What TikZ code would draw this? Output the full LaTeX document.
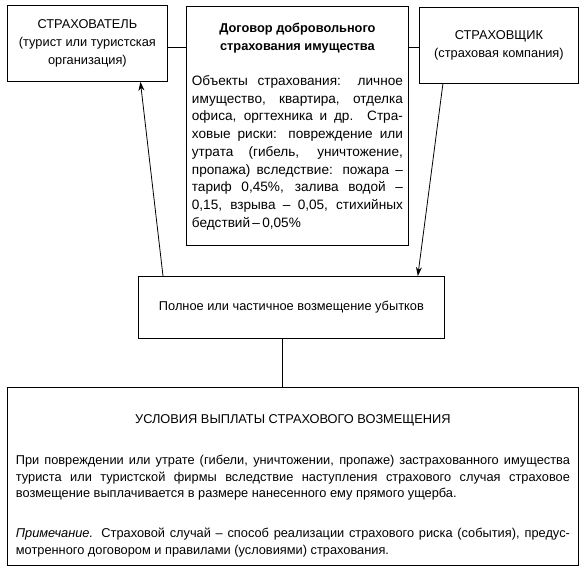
\documentclass[tikz,border=0pt]{standalone}
\usepackage{fontspec}
\setmainfont{Liberation Sans}
\usepackage{tikz}
\usetikzlibrary{arrows.meta, positioning, calc}

% one justified line of fixed breaks
\newcommand{\fullline}[1]{\makebox[\linewidth][s]{#1}\\}

\begin{document}
\begin{tikzpicture}[
    x=1pt, y=-1pt,
    box/.style={rectangle, draw=black, line width=0.8pt, anchor=north west, inner sep=0pt, font=\fontsize{12.8}{18.3}\selectfont},
    link/.style={line width=0.8pt},
    arr/.style={line width=0.8pt, -{Stealth[length=9pt, width=6pt]}},
]
\useasboundingbox (0,0) rectangle (585,568);

% parties and contract
\node[box, minimum width=160, minimum height=76, align=center] (insured) at (7,5)
    {СТРАХОВАТЕЛЬ\\(турист или туристская\\организация)};
\node[box, minimum width=159, minimum height=76, align=center] (insurer) at (419,7)
    {СТРАХОВЩИК\\(страховая компания)};
\node[box, minimum width=222, minimum height=239] (contract) at (186,6) {%
    \begin{minipage}[t][239pt][t]{211pt}
    \fontsize{12.8}{17.75}\selectfont
    \vspace*{17pt}
    {\centering\bfseries Договор добровольного\\ страхования имущества\par}
    \vspace{17pt}
    \fontsize{13.6}{17.75}\selectfont
    \fullline{Объекты страхования: личное}
    \fullline{имущество, квартира, отделка}
    \fullline{офиса, оргтехника и др. Стра-}
    \fullline{ховые риски: повреждение или}
    \fullline{утрата (гибель, уничтожение,}
    \fullline{пропажа) вследствие: пожара –}
    \fullline{тариф 0,45\%, залива водой –}
    \fullline{0,15, взрыва – 0,05, стихийных}
    бедствий\,–\,0,05\%
    \end{minipage}};

% compensation
\node[box, minimum width=306, minimum height=62] (payout) at (138,276)
    {Полное или частичное возмещение убытков};

% payment terms
\node[box, minimum width=571, minimum height=178] (terms) at (7,387) {%
    \begin{minipage}[t][178pt][t]{554pt}
    \fontsize{12.8}{16.4}\selectfont
    \vspace*{27pt}
    {\centering УСЛОВИЯ ВЫПЛАТЫ СТРАХОВОГО ВОЗМЕЩЕНИЯ\par}
    \vspace{25pt}
    \fullline{При повреждении или утрате (гибели, уничтожении, пропаже) застрахованного имущества}
    \fullline{туриста или туристской фирмы вследствие наступления страхового случая страховое}
    возмещение выплачивается в размере нанесенного ему прямого ущерба.\par
    \vspace{24pt}
    \fullline{\textit{Примечание.} Страховой случай – способ реализации страхового риска (события), предус-}
    мотренного договором и правилами (условиями) страхования.
    \end{minipage}};

% connectors
\draw[link] (insured.east |- 0,47) -- (contract.west |- 0,47);
\draw[link] (contract.east |- 0,47) -- (insurer.west |- 0,47);
\draw[arr] ([xshift=25pt]payout.north west) -- ([xshift=53pt]insured.south);
\draw[arr] ([xshift=-56pt]insurer.south) -- ([xshift=-27pt]payout.north east);
\draw[link] ([xshift=-9pt]payout.south) -- ([xshift=-9pt]payout.south |- terms.north);
\end{tikzpicture}
\end{document}
